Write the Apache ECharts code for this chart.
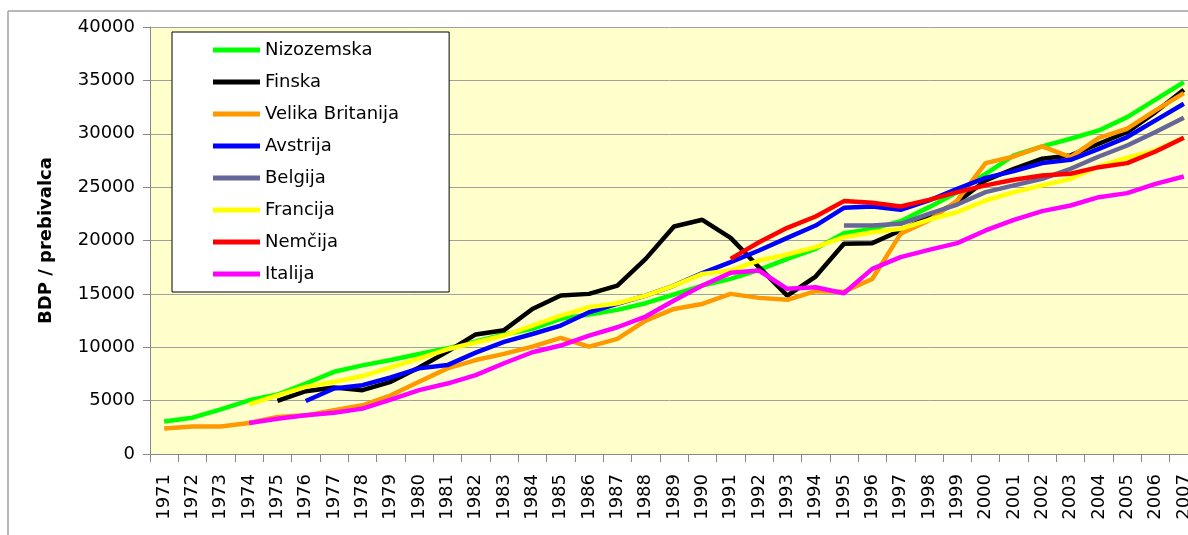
<!DOCTYPE html>
<html>
<head>
<meta charset="utf-8">
<script src="https://cdn.jsdelivr.net/npm/echarts@6/dist/echarts.min.js"></script>
<style>
  html, body { margin: 0; padding: 0; background: #fff; }
  #chart { width: 1188px; height: 535px; }
</style>
</head>
<body>
<div id="chart"></div>
<script>
const years = []
for (let y = 1971; y <= 2007; y++) years.push(String(y))

const yTicks = [0, 5000, 10000, 15000, 20000, 25000, 30000, 35000, 40000]

const nizozemska = [3050, 3400, 4180, 5030, 5570, 6600, 7700, 8300, 8800, 9370,
  9900, 10540, 11200, 11720, 12660, 13060, 13500, 14125, 14940, 15780,
  16400, 17250, 18280, 19220, 20690, 21090, 21810, 23125, 24530, 26250,
  27970, 28810, 29530, 30310, 31560, 33190, 34840]
const finska = [null, null, null, null, 4970, 5880, 6230, 5980, 6760, 8110,
  9590, 11200, 11600, 13590, 14840, 15000, 15780, 18280, 21310, 21940,
  20250, 17500, 14840, 16625, 19690, 19750, 20940, 22190, 23590, 25625,
  26720, 27660, 27970, 29060, 30160, 32030, 34125]
const velikaBritanija = [2390, 2580, 2580, 2900, 3460, 3620, 4090, 4560, 5500, 6760,
  8020, 8800, 9375, 10060, 10870, 10060, 10780, 12500, 13590, 14060,
  15000, 14625, 14440, 15250, 15200, 16400, 20625, 21875, 23750, 27250,
  27870, 28810, 27810, 29620, 30470, 32190, 33810]
const avstrija = [null, null, null, null, null, 4970, 6130, 6450, 7170, 8020,
  8330, 9500, 10500, 11240, 12030, 13280, 14060, 14840, 15780, 16940,
  17970, 19060, 20250, 21400, 23060, 23190, 22870, 23750, 24840, 25870,
  26500, 27250, 27560, 28590, 29690, 31250, 32810]
const belgija = [null, null, null, null, null, null, null, null, null, null,
  null, null, null, null, null, null, null, null, null, null,
  null, null, null, null, 21410, 21410, 21560, 22500, 23370, 24530,
  25160, 25780, 26720, 27870, 28900, 30160, 31500]
const francija = [null, null, null, 4650, 5500, 6290, 6760, 7300, 8110, 8960,
  9810, 10440, 11100, 12030, 12970, 13750, 14125, 14840, 15780, 16875,
  17190, 18125, 18690, 19375, 20310, 20780, 21090, 21940, 22660, 23750,
  24530, 25160, 25780, 26940, 27750, 28440, 29620]
const nemcija = [null, null, null, null, null, null, null, null, null, null,
  null, null, null, null, null, null, null, null, null, null,
  18280, 19840, 21190, 22250, 23690, 23530, 23190, 23810, 24530, 25160,
  25690, 26090, 26250, 26870, 27250, 28340, 29620]
const italija = [null, null, null, 2900, 3300, 3620, 3870, 4250, 5100, 5980,
  6600, 7390, 8500, 9530, 10160, 11090, 11875, 12875, 14375, 15780,
  16970, 17190, 15470, 15625, 15060, 17340, 18440, 19120, 19750, 20940,
  21940, 22750, 23280, 24060, 24440, 25310, 26000]

const seriesList = [
  { name: 'Nizozemska', data: nizozemska, color: '#00FF00' },
  { name: 'Finska', data: finska, color: '#000000' },
  { name: 'Velika Britanija', data: velikaBritanija, color: '#FF9900' },
  { name: 'Avstrija', data: avstrija, color: '#0000FF' },
  { name: 'Belgija', data: belgija, color: '#666699' },
  { name: 'Francija', data: francija, color: '#FFFF00' },
  { name: 'Nemčija', data: nemcija, color: '#FF0000' },
  { name: 'Italija', data: italija, color: '#FF00FF' }
]

const font = 'DejaVu Sans, Verdana, sans-serif'
const chart = echarts.init(document.getElementById('chart'))

chart.setOption({
  animation: false,
  backgroundColor: '#fff',
  textStyle: { fontFamily: font },
  graphic: [
    { type: 'line', shape: { x1: 8, y1: 11, x2: 1188, y2: 11 }, style: { stroke: '#A0A0A0', lineWidth: 1.5 } },
    { type: 'line', shape: { x1: 8, y1: 11, x2: 8, y2: 535 }, style: { stroke: '#A0A0A0', lineWidth: 1.5 } }
  ],
  grid: {
    left: 150,
    width: 1048,
    top: 27,
    bottom: 81,
    outerBoundsMode: 'none',
    containLabel: false,
    show: true,
    backgroundColor: '#FFFFCC',
    borderWidth: 0
  },
  legend: {
    orient: 'vertical',
    left: 172,
    top: 32,
    padding: [8, 50, 8, 41],
    backgroundColor: '#fff',
    borderColor: '#000',
    borderWidth: 1,
    icon: 'rect',
    itemWidth: 47,
    itemHeight: 5,
    itemGap: 12,
    textStyle: { fontSize: 18, color: '#000', fontFamily: font, lineHeight: 20 },
    data: seriesList.map(s => s.name)
  },
  xAxis: {
    type: 'category',
    data: years,
    boundaryGap: true,
    axisLine: { lineStyle: { color: '#888', width: 1 } },
    axisTick: { show: true, length: 8, lineStyle: { color: '#888' } },
    axisLabel: { rotate: 90, interval: 0, fontSize: 18, color: '#000', margin: 20, fontFamily: font },
    splitLine: { show: false }
  },
  yAxis: {
    type: 'value',
    min: yTicks[0],
    max: yTicks[yTicks.length - 1],
    interval: 5000,
    name: 'BDP / prebivalca',
    nameLocation: 'middle',
    nameGap: 95,
    nameTextStyle: { fontSize: 18, fontWeight: 'bold', color: '#000', fontFamily: font },
    axisLine: { show: true, lineStyle: { color: '#888', width: 1 } },
    axisTick: { show: true, length: 7, lineStyle: { color: '#888' } },
    axisLabel: { fontSize: 18, color: '#000', margin: 15, fontFamily: font, formatter: v => String(v) },
    splitLine: { lineStyle: { color: '#A0A0A0', width: 1 } }
  },
  series: seriesList.map(s => ({
    name: s.name,
    type: 'line',
    data: s.data,
    showSymbol: false,
    symbol: 'none',
    connectNulls: false,
    color: s.color,
    lineStyle: { width: 4.5, color: s.color }
  }))
})
</script>
</body>
</html>
